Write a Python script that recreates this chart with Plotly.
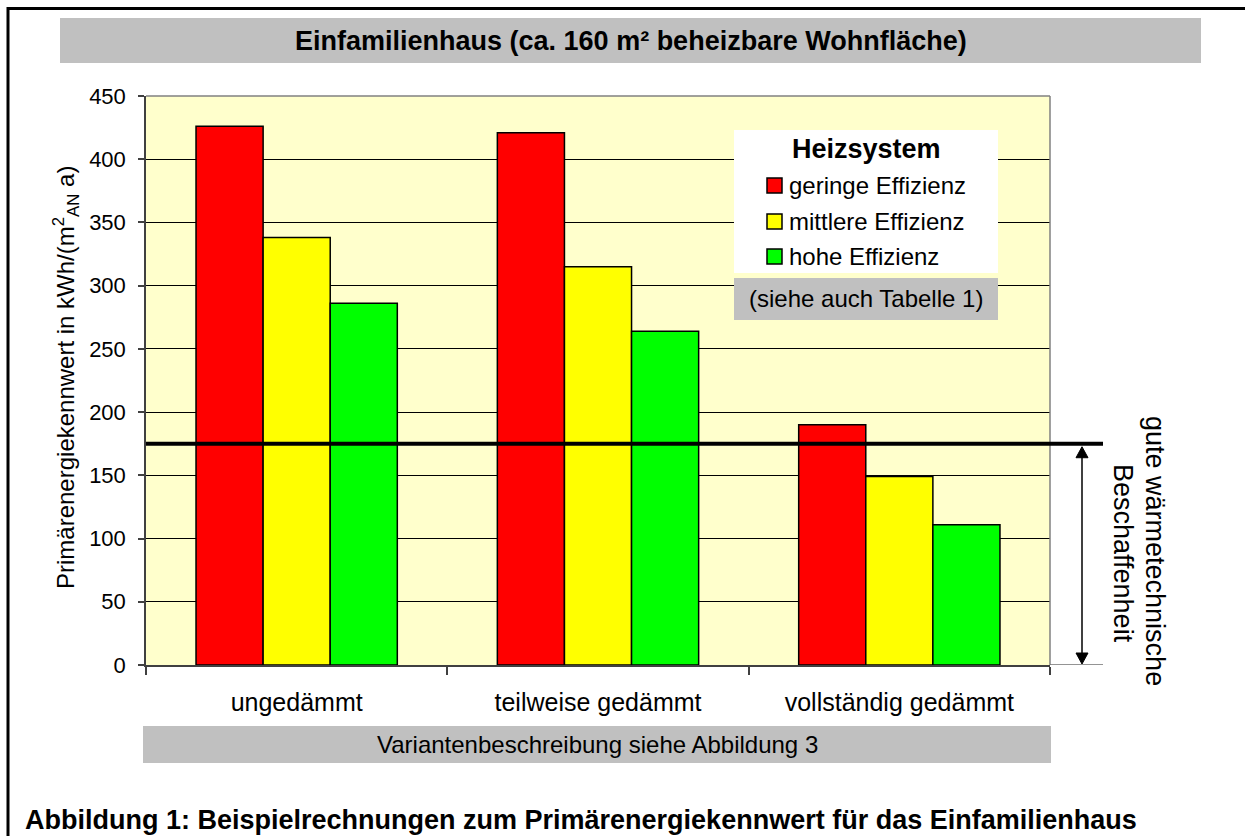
import plotly.graph_objects as go

# Data
categories = ["ungedämmt", "teilweise gedämmt", "vollständig gedämmt"]
series_names = ["geringe Effizienz", "mittlere Effizienz", "hohe Effizienz"]
geringe = [426, 421, 190]
mittlere = [338, 315, 149]
hohe = [286, 264, 111]
series_values = [geringe, mittlere, hohe]
series_colors = ["#FF0000", "#FFFF00", "#00FF00"]
y_ticks = [0, 50, 100, 150, 200, 250, 300, 350, 400, 450]
limit_value = 175

title_text = "Einfamilienhaus (ca. 160 m² beheizbare Wohnfläche)"
y_title = "Primärenergiekennwert in kWh/(m<sup>2</sup><sub>AN</sub> a)"
legend_title = "Heizsystem"
legend_note = "(siehe auch Tabelle 1)"
footer_text = "Variantenbeschreibung siehe Abbildung 3"
side_lines = ["gute wärmetechnische", "Beschaffenheit"]
caption = "Abbildung 1: Beispielrechnungen zum Primärenergiekennwert für das Einfamilienhaus"

# Page geometry (pixels)
W, H = 1245, 836
L, R, T, B = 146, 1050, 96, 665
FONT = "Liberation Sans, Arial, sans-serif"


def px(x):
    return (x - L) / (R - L)


def py(y):
    return (B - y) / (B - T)


fig = go.Figure()
for name, vals, col in zip(series_names, series_values, series_colors):
    fig.add_trace(go.Bar(
        x=categories, y=vals, name=name,
        marker=dict(color=col, line=dict(color="#000000", width=1.5)),
        showlegend=False,
    ))

shapes = []
annotations = []

# outer frame (top and left edges)
shapes.append(dict(type="line", xref="paper", yref="paper",
                   x0=px(7), x1=px(W + 5), y0=py(8.5), y1=py(8.5),
                   line=dict(color="#000000", width=3)))
shapes.append(dict(type="line", xref="paper", yref="paper",
                   x0=px(8), x1=px(8), y0=py(7), y1=py(H + 5),
                   line=dict(color="#000000", width=3)))

# title bar
shapes.append(dict(type="rect", xref="paper", yref="paper",
                   x0=px(60), x1=px(1201), y0=py(63), y1=py(18),
                   fillcolor="#C0C0C0", line=dict(width=0)))
annotations.append(dict(text="<b>" + title_text + "</b>", xref="paper", yref="paper",
                        x=px(630.5), y=py(40.5), xanchor="center", yanchor="middle",
                        showarrow=False, font=dict(size=27, color="#000000", family=FONT)))

# footer bar
shapes.append(dict(type="rect", xref="paper", yref="paper",
                   x0=px(143), x1=px(1051), y0=py(763), y1=py(726),
                   fillcolor="#C0C0C0", line=dict(width=0)))
annotations.append(dict(text=footer_text, xref="paper", yref="paper",
                        x=px(597), y=py(744.5), xanchor="center", yanchor="middle",
                        showarrow=False, font=dict(size=24, color="#000000", family=FONT)))

# plot area border (top and right)
shapes.append(dict(type="line", xref="paper", yref="paper", x0=0, x1=1, y0=1, y1=1,
                   line=dict(color="#808080", width=1.5), layer="above"))
shapes.append(dict(type="line", xref="paper", yref="paper", x0=1, x1=1, y0=0, y1=1,
                   line=dict(color="#808080", width=1.5), layer="above"))

# baseline extension to the right
shapes.append(dict(type="line", xref="paper", yref="y", x0=1, x1=px(1103), y0=0, y1=0,
                   line=dict(color="#707070", width=1.5), layer="above"))

# limit line
shapes.append(dict(type="line", xref="paper", yref="y", x0=0, x1=px(1103),
                   y0=limit_value, y1=limit_value,
                   line=dict(color="#000000", width=4), layer="above"))

# double-headed arrow
ax = 1082
y_top = B - limit_value * (B - T) / 450 + 3
y_bot = B - 1
shapes.append(dict(type="line", xref="paper", yref="paper",
                   x0=px(ax), x1=px(ax), y0=py(y_top + 8), y1=py(y_bot - 8),
                   line=dict(color="#000000", width=1.5)))
for tip, base in [(y_top, y_top + 11), (y_bot, y_bot - 11)]:
    path = "M {} {} L {} {} L {} {} Z".format(px(ax), py(tip), px(ax - 6), py(base),
                                               px(ax + 6), py(base))
    shapes.append(dict(type="path", xref="paper", yref="paper", path=path,
                       fillcolor="#000000", line=dict(color="#000000", width=1)))

# rotated side text
annotations.append(dict(text=side_lines[0], xref="paper", yref="paper",
                        x=px(1155), y=py(551), xanchor="center", yanchor="middle",
                        textangle=90, showarrow=False,
                        font=dict(size=27, color="#000000", family=FONT)))
annotations.append(dict(text=side_lines[1], xref="paper", yref="paper",
                        x=px(1123), y=py(553), xanchor="center", yanchor="middle",
                        textangle=90, showarrow=False,
                        font=dict(size=27, color="#000000", family=FONT)))

# legend box
shapes.append(dict(type="rect", xref="paper", yref="paper",
                   x0=px(734), x1=px(998), y0=py(273), y1=py(130),
                   fillcolor="#FFFFFF", line=dict(width=0), layer="above"))
shapes.append(dict(type="rect", xref="paper", yref="paper",
                   x0=px(734), x1=px(998), y0=py(320), y1=py(278),
                   fillcolor="#C0C0C0", line=dict(width=0), layer="above"))
annotations.append(dict(text="<b>" + legend_title + "</b>", xref="paper", yref="paper",
                        x=px(866), y=py(149), xanchor="center", yanchor="middle",
                        showarrow=False, font=dict(size=27, color="#000000", family=FONT)))
row_y = [185.5, 221.5, 256.5]
for name, col, ry in zip(series_names, series_colors, row_y):
    shapes.append(dict(type="rect", xref="paper", yref="paper",
                       x0=px(767), x1=px(782), y0=py(ry + 7.5), y1=py(ry - 7.5),
                       fillcolor=col, line=dict(color="#000000", width=1.5), layer="above"))
    annotations.append(dict(text=name, xref="paper", yref="paper",
                            x=px(787), y=py(ry), xanchor="left", yanchor="middle",
                            showarrow=False, font=dict(size=24, color="#000000", family=FONT)))
annotations.append(dict(text=legend_note, xref="paper", yref="paper",
                        x=px(866), y=py(298), xanchor="center", yanchor="middle",
                        showarrow=False, font=dict(size=24, color="#000000", family=FONT)))

# y-axis title
annotations.append(dict(text=y_title, xref="paper", yref="paper",
                        x=px(66), y=py(378), xanchor="center", yanchor="middle",
                        textangle=-90, showarrow=False,
                        font=dict(size=24, color="#000000", family=FONT)))

# caption
annotations.append(dict(text="<b>" + caption + "</b>", xref="paper", yref="paper",
                        x=px(23), y=py(820), xanchor="left", yanchor="middle",
                        showarrow=False, font=dict(size=27, color="#000000", family=FONT)))

fig.update_layout(
    width=W, height=H, autosize=False,
    margin=dict(l=L, r=W - R, t=T, b=H - B, pad=0),
    paper_bgcolor="#FFFFFF", plot_bgcolor="#FFFFCC",
    barmode="group", bargap=0.332, bargroupgap=0,
    font=dict(family=FONT, color="#000000"),
    shapes=shapes, annotations=annotations,
    xaxis=dict(type="category", range=[-0.5, 2.5], tickson="boundaries",
               ticks="outside", ticklen=8, tickwidth=1.5, tickcolor="#404040",
               showline=True, linecolor="#404040", linewidth=1.5,
               showgrid=False, zeroline=False, ticklabelstandoff=14,
               tickfont=dict(size=25, color="#000000", family=FONT)),
    yaxis=dict(range=[0, 450], tickvals=y_ticks, ticks="outside", ticklen=6,
               tickwidth=1.5, tickcolor="#404040", showline=True,
               linecolor="#404040", linewidth=1.5, showgrid=True,
               gridcolor="#000000", gridwidth=1, zeroline=False,
               ticklabelstandoff=8,
               tickfont=dict(size=22, color="#000000", family=FONT)),
)

fig.write_html("out.html")
